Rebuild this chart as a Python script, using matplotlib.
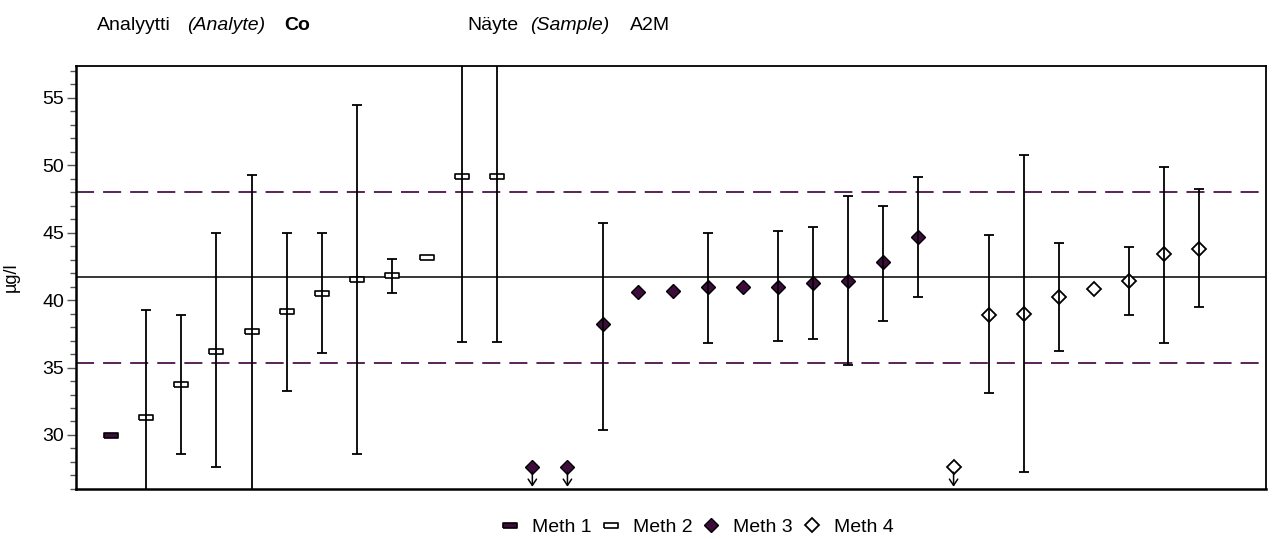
import numpy as np
import matplotlib
matplotlib.use("Agg")
import matplotlib.pyplot as plt
from matplotlib.lines import Line2D
from matplotlib.ticker import MultipleLocator

plt.rcParams['font.family'] = ['Liberation Sans', 'DejaVu Sans']

nan = np.nan
# ---- data ----
methods = [1, 2, 2, 2, 2, 2, 2, 2, 2, 2, 2, 2,
           3, 3, 3, 3, 3, 3, 3, 3, 3, 3, 3, 3,
           4, 4, 4, 4, 4, 4, 4, 4]
values = [30.0, 31.3, 33.8, 36.2, 37.7, 39.2, 40.5, 41.6, 41.9, 43.2, 49.2, 49.2,
          nan, nan, 38.2, 40.6, 40.7, 41.0, 41.0, 41.0, 41.3, 41.4, 42.8, 44.7,
          nan, 38.9, 39.0, 40.2, 40.8, 41.4, 43.4, 43.8]
below_range = [False] * 12 + [True, True] + [False] * 10 + [True] + [False] * 7
lower = [nan, 23.4, 28.6, 27.6, 25.9, 33.25, 36.05, 28.6, 40.5, nan, 36.9, 36.9,
         nan, nan, 30.4, nan, nan, 36.8, nan, 36.95, 37.1, 35.2, 38.45, 40.25,
         nan, 33.1, 27.25, 36.2, nan, 38.9, 36.8, 39.5]
upper = [nan, 39.25, 38.9, 45.0, 49.3, 45.0, 45.0, 54.5, 43.05, nan, 61.5, 61.5,
         nan, nan, 45.75, nan, nan, 45.0, nan, 45.1, 45.4, 47.7, 47.0, 49.1,
         nan, 44.85, 50.8, 44.25, nan, 43.95, 49.9, 48.25]
assigned = 41.72
limit_low, limit_high = 35.33, 48.03
method_labels = ['Meth 1', 'Meth 2', 'Meth 3', 'Meth 4']
yticks = [30, 35, 40, 45, 50, 55]

# ---- styles ----
PURPLE = '#3d0c3d'
DASH = '#4a1249'
CAP = '#4a1249'
rect = [(-1, -0.36), (1, -0.36), (1, 0.36), (-1, 0.36), (-1, -0.36)]
styles = {
    1: dict(marker=rect, ms=10, mfc=PURPLE, mec='black', mew=1.2),
    2: dict(marker=rect, ms=10, mfc='white', mec='black', mew=1.2),
    3: dict(marker='D', ms=6.8, mfc=PURPLE, mec='black', mew=1.0),
    4: dict(marker='D', ms=6.8, mfc='white', mec='black', mew=1.3),
}
ARROW_Y = 27.65
FS = 14

fig = plt.figure(figsize=(12.73, 5.39), dpi=100)
ax = fig.add_axes([76 / 1273, 1 - 489 / 539, (1266 - 76) / 1273, (489 - 66) / 539])

x = np.arange(1, len(values) + 1)
ax.set_xlim(0, 33.9)
ax.set_ylim(25.99, 57.37)

ax.axhline(assigned, color='black', lw=1.1, zorder=2)
for lv in (limit_low, limit_high):
    ax.axhline(lv, color=DASH, lw=1.3, dashes=(10, 5), zorder=2)

for xi, v, m, b in zip(x, values, methods, below_range):
    st = styles[m]
    if b:
        ax.plot([xi], [ARROW_Y], ls='none', zorder=3, **st)
        ax.annotate('', xy=(xi, ARROW_Y), xycoords='data',
                    xytext=(0, -14.5), textcoords='offset points',
                    arrowprops=dict(arrowstyle='<-, head_length=0.45, head_width=0.3',
                                    color='black', lw=1.1, shrinkA=0, shrinkB=4),
                    zorder=4)
    else:
        ax.plot([xi], [v], ls='none', zorder=3, **st)

vals = np.array(values, dtype=float)
lo = np.array(lower, dtype=float)
hi = np.array(upper, dtype=float)
has = ~np.isnan(lo)
yerr = np.vstack([vals[has] - lo[has], hi[has] - vals[has]])
eb = ax.errorbar(x[has], vals[has], yerr=yerr, fmt='none', ecolor='black',
                 elinewidth=1.3, capsize=3.8, capthick=1.3, zorder=4)
for cl in eb[1]:
    cl.set_color(CAP)

# axes styling
for s in ax.spines.values():
    s.set_linewidth(1.3)
    s.set_color('black')
ax.spines['left'].set_linewidth(1.8)
ax.spines['bottom'].set_linewidth(1.8)
ax.set_xticks([])
ax.set_yticks(yticks)
ax.yaxis.set_minor_locator(MultipleLocator(1))
ax.tick_params(axis='y', which='major', length=6.5, width=1, labelsize=FS, pad=2,
               color='#555555', labelcolor='black')
ax.tick_params(axis='y', which='minor', length=4.5, width=1, color='#555555')
ax.set_ylabel('µg/l', fontsize=13)
ax.yaxis.set_label_coords((20 - 76) / 1190, 0.5)

# header texts
hy = 1 - 26 / 539
kw = dict(fontsize=FS, va='center')
fig.text(97 / 1273, hy, 'Analyytti', **kw)
fig.text(187 / 1273, hy, '(Analyte)', style='italic', **kw)
fig.text(284 / 1273, hy, 'Co', weight='bold', **kw)
fig.text(467 / 1273, hy, 'Näyte', **kw)
fig.text(530 / 1273, hy, '(Sample)', style='italic', **kw)
fig.text(630 / 1273, hy, 'A2M', **kw)

# legend
handles = [Line2D([], [], ls='none', **styles[m]) for m in (1, 2, 3, 4)]
fig.legend(handles, method_labels, loc='center left', bbox_to_anchor=(503 / 1273, 1 - 527 / 539),
           ncol=4, frameon=False, fontsize=FS,
           handlelength=0.75, handletextpad=0.75,
           columnspacing=0.6, borderpad=0, borderaxespad=0)

fig.savefig('out.png', dpi=100)
